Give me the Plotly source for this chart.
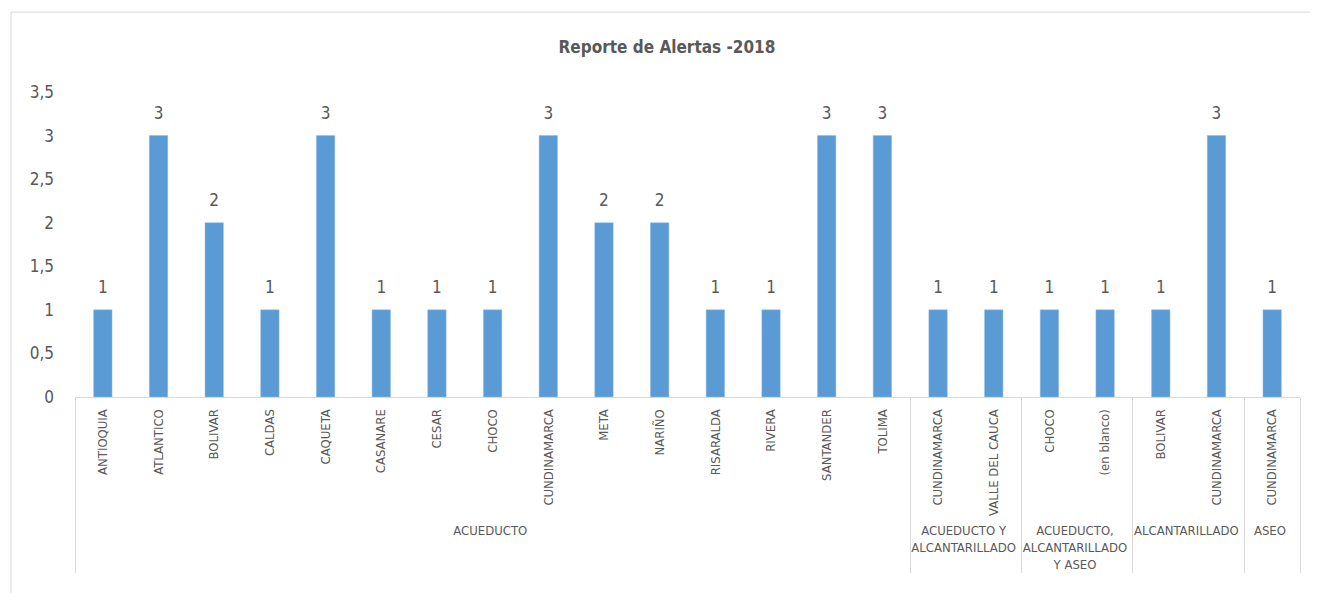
import plotly.graph_objects as go

# Grupo de servicio y departamento de cada barra
grupos = (["ACUEDUCTO"] * 15
          + ["ACUEDUCTO Y<br>ALCANTARILLADO"] * 2
          + ["ACUEDUCTO,<br>ALCANTARILLADO<br>Y ASEO"] * 2
          + ["ALCANTARILLADO"] * 2
          + ["ASEO"])
departamentos = ["ANTIOQUIA", "ATLANTICO", "BOLIVAR", "CALDAS", "CAQUETA", "CASANARE",
                 "CESAR", "CHOCO", "CUNDINAMARCA", "META", "NARIÑO", "RISARALDA",
                 "RIVERA", "SANTANDER", "TOLIMA",
                 "CUNDINAMARCA", "VALLE DEL CAUCA",
                 "CHOCO", "(en blanco)",
                 "BOLIVAR", "CUNDINAMARCA",
                 "CUNDINAMARCA"]
alertas = [1, 3, 2, 1, 3, 1, 1, 1, 3, 2, 2, 1, 1, 3, 3, 1, 1, 1, 1, 1, 3, 1]

gris = "#595959"
fuente = "DejaVu Sans Condensed, Liberation Sans Narrow, Arial Narrow, sans-serif"

fig = go.Figure()
fig.add_trace(go.Bar(
    x=[grupos, departamentos],
    y=alertas,
    marker=dict(color="#5B9BD5", line=dict(color="#8DB8E2", width=0.5)),
    hoverinfo="x+y",
))
# etiquetas de datos, un poco separadas de la barra
fig.add_trace(go.Scatter(
    x=[grupos, departamentos],
    y=alertas,
    mode="markers+text",
    text=[str(v) for v in alertas],
    textposition="top center",
    textfont=dict(size=17, color=gris, family=fuente),
    marker=dict(size=18, opacity=0),
    hoverinfo="skip",
    cliponaxis=False,
))

# marco exterior del grafico
fig.add_shape(type="rect", xref="paper", yref="paper",
              x0=-0.0522, x1=1.03, y0=-1.0, y1=1.262,
              line=dict(color="#D9D9D9", width=1), layer="below")

fig.update_layout(
    title=dict(text="<b>Reporte de Alertas -2018</b>", x=0.5, xanchor="center",
               y=0.934, yanchor="middle",
               font=dict(size=17, color=gris, family=fuente)),
    width=1318, height=593,
    margin=dict(l=67, r=26, t=84, b=204),
    plot_bgcolor="white", paper_bgcolor="white",
    bargap=0.67,
    separators=", ",
    showlegend=False,
    font=dict(family=fuente, color=gris, size=13),
)
fig.update_xaxes(
    type="multicategory",
    range=[-0.5, len(alertas) - 0.5],
    tickangle=-90,
    tickfont=dict(size=13, color=gris),
    showline=True, linecolor="#D9D9D9",
    showdividers=True, dividercolor="#D9D9D9", dividerwidth=1,
    ticks="",
    ticklabelstandoff=6,
)
fig.update_yaxes(
    range=[0, 3.5], dtick=0.5,
    showgrid=False, zeroline=False,
    tickfont=dict(size=17, color=gris),
    ticklabelstandoff=20,
)

fig.write_html("out.html")
